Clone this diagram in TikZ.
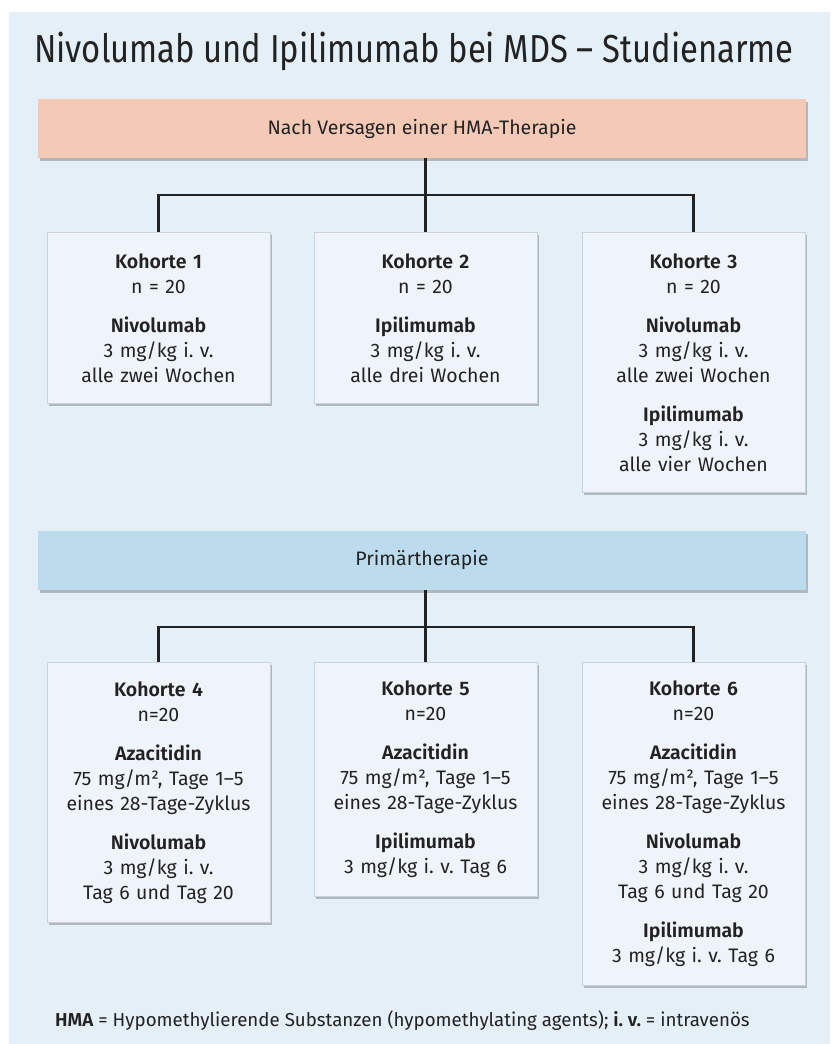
\documentclass[tikz,border=0pt]{standalone}
\usepackage{fontspec}
\setmainfont{Fira Sans}[BoldFont={Fira Sans SemiBold}]
\newfontfamily\condfont{Fira Sans}[FakeStretch=0.84]
\usetikzlibrary{shadows}
\definecolor{panelbg}{HTML}{E4EFF8}
\definecolor{boxfill}{HTML}{EEF4F9}
\definecolor{boxline}{HTML}{C9D3DC}
\definecolor{pinkbar}{HTML}{F4CAB7}
\definecolor{bluebar}{HTML}{BCDCEE}
\definecolor{ink}{HTML}{222222}
\frenchspacing
\tikzset{
  banner/.style={fill=#1, minimum width=768pt, minimum height=59pt, inner sep=0pt,
    text=ink, font=\fontsize{19.5}{22}\selectfont,
    drop shadow={shadow xshift=2pt, shadow yshift=-3pt, opacity=0.4, fill=black!60}},
  cbox/.style={fill=boxfill, draw=boxline, line width=0.6pt, anchor=north,
    minimum width=223pt, text width=219pt, align=center, inner sep=2pt,
    text=ink, font=\fontsize{19.5}{25}\selectfont,
    drop shadow={shadow xshift=2pt, shadow yshift=-3pt, opacity=0.4, fill=black!60}},
  conn/.style={draw=ink, line width=2.2pt},
}
\newcommand{\gp}{\\[14pt]}
\begin{document}
\begin{tikzpicture}[x=1pt,y=-1pt]
\useasboundingbox (0,0) rectangle (830,1044);
\fill[white] (0,0) rectangle (830,1044);
\fill[panelbg] (9,12) rectangle (830,1044);

\node[text=ink, font=\condfont\fontsize{39}{42}\selectfont] (title) at (414,51) {Nivolumab und Ipilimumab bei MDS – Studienarme};

\node[banner=pinkbar] (b1) at (422,128.5) {Nach Versagen einer HMA-Therapie};

\node[cbox, minimum height=171pt] (k1) at (158.5,232) {\textbf{Kohorte 1}\\ n = 20\gp \textbf{Nivolumab}\\ 3 mg/kg i. v.\\ alle zwei Wochen};
\node[cbox, minimum height=171pt] (k2) at (425.5,232) {\textbf{Kohorte 2}\\ n = 20\gp \textbf{Ipilimumab}\\ 3 mg/kg i. v.\\ alle drei Wochen};
\node[cbox, minimum height=260pt] (k3) at (693.5,232) {\textbf{Kohorte 3}\\ n = 20\gp \textbf{Nivolumab}\\ 3 mg/kg i. v.\\ alle zwei Wochen\gp \textbf{Ipilimumab}\\ 3 mg/kg i. v.\\ alle vier Wochen};

\coordinate (j1) at (425.5,195);
\draw[conn] (b1.south -| j1) -- (j1);
\draw[conn] (k1.north) |- (j1) -| (k3.north);
\draw[conn] (j1) -- (k2.north);

\node[banner=bluebar] (b2) at (422,560) {Primärtherapie};

\node[cbox, minimum height=260pt] (k4) at (158.5,662) {\textbf{Kohorte 4}\\ n=20\gp \textbf{Azacitidin}\\ 75 mg/m², Tage 1–5\\ eines 28-Tage-Zyklus\gp \textbf{Nivolumab}\\ 3 mg/kg i. v.\\ Tag 6 und Tag 20};
\node[cbox, minimum height=234pt] (k5) at (425.5,662) {\textbf{Kohorte 5}\\ n=20\gp \textbf{Azacitidin}\\ 75 mg/m², Tage 1–5\\ eines 28-Tage-Zyklus\gp \textbf{Ipilimumab}\\ 3 mg/kg i. v. Tag 6};
\node[cbox, minimum height=323pt] (k6) at (693.5,662) {\textbf{Kohorte 6}\\ n=20\gp \textbf{Azacitidin}\\ 75 mg/m², Tage 1–5\\ eines 28-Tage-Zyklus\gp \textbf{Nivolumab}\\ 3 mg/kg i. v.\\ Tag 6 und Tag 20\gp \textbf{Ipilimumab}\\ 3 mg/kg i. v. Tag 6};

\coordinate (j2) at (425.5,627);
\draw[conn] (b2.south -| j2) -- (j2);
\draw[conn] (k4.north) |- (j2) -| (k6.north);
\draw[conn] (j2) -- (k5.north);

\node[anchor=west, text=ink, font=\fontsize{18.7}{20}\selectfont, inner sep=0pt] (foot) at (55,1021)
  {\textbf{HMA} = Hypomethylierende Substanzen (hypomethylating agents); \textbf{i. v.} = intravenös};
\end{tikzpicture}
\end{document}
